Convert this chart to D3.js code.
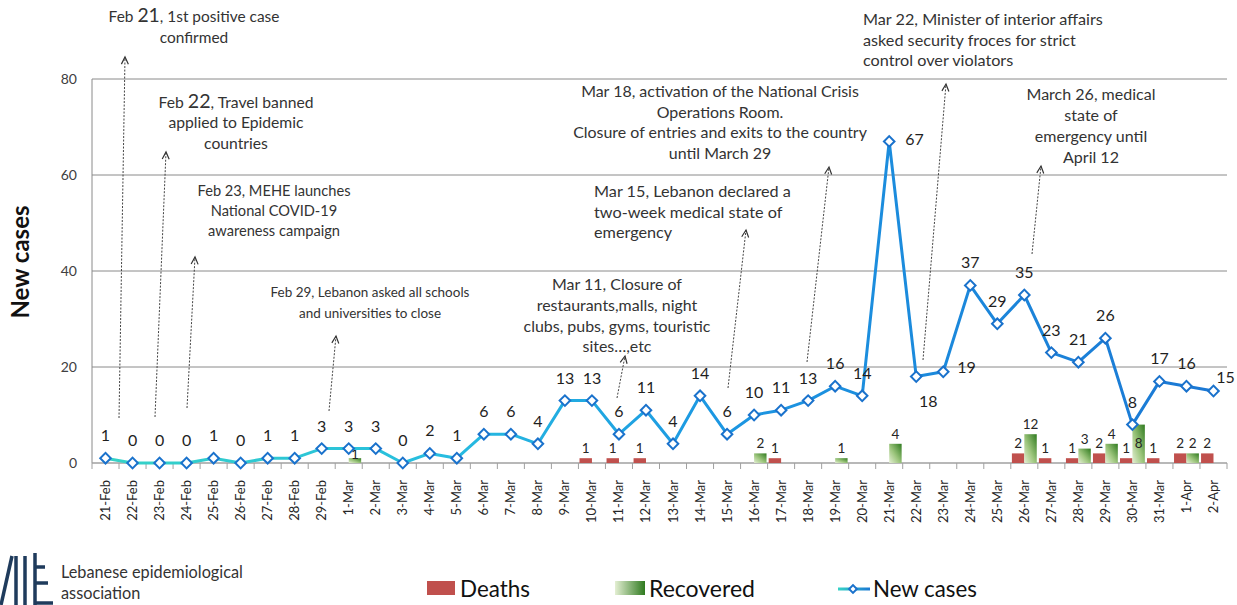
<!DOCTYPE html>
<html><head><meta charset="utf-8">
<script src="https://cdn.jsdelivr.net/npm/d3@7"></script>
<style>
html,body{margin:0;padding:0;background:#fff;}
svg{display:block;font-family:Lato,"Open Sans",sans-serif;}
</style></head>
<body><svg id="chart" width="1237" height="605"></svg>
<script>
// ---------------- DATA ----------------
const categories = ["21-Feb","22-Feb","23-Feb","24-Feb","25-Feb","26-Feb","27-Feb","28-Feb","29-Feb",
  "1-Mar","2-Mar","3-Mar","4-Mar","5-Mar","6-Mar","7-Mar","8-Mar","9-Mar","10-Mar","11-Mar","12-Mar",
  "13-Mar","14-Mar","15-Mar","16-Mar","17-Mar","18-Mar","19-Mar","20-Mar","21-Mar","22-Mar","23-Mar",
  "24-Mar","25-Mar","26-Mar","27-Mar","28-Mar","29-Mar","30-Mar","31-Mar","1-Apr","2-Apr"];
const newCases = [1,0,0,0,1,0,1,1,3, 3,3,0,2,1,6,6,4,13,13,6,11,4,14,6,10,11,13,16,14,67,18,19,37,29,35,23,21,26,8,17, 16,15];
const deaths = [null,null,null,null,null,null,null,null,null,
  null,null,null,null,null,null,null,null,null,1,1,1,null,null,null,null,1,null,null,null,null,null,null,
  null,null,2,1,1,2,1,1, 2,2];
// bar heights as drawn in the picture (26-Mar bar is drawn at ~6 although labelled 12)
const recovered = [null,null,null,null,null,null,null,null,null,
  1,null,null,null,null,null,null,null,null,null,null,null,null,null,null,2,null,null,1,null,4,null,null,
  null,null,6,null,3,4,8,null, 2,null];
const recoveredLabels = {"26-Mar":"12"};
const yTicks = [0,20,40,60,80];
const seriesNames = ["Deaths","Recovered","New cases"];

// ---------------- LAYOUT ----------------
const svg = d3.select("#chart");
const L = 92, R = 1227, T = 79, B = 463;
const x = d3.scaleBand().domain(categories).range([L, R]).padding(0);
const y = d3.scaleLinear().domain([0, 80]).range([B, T]);
const bw = x.bandwidth();
const cx = c => x(c) + bw / 2;

// fit a text element's font size so that it spans a target width
function fitWidth(sel, target){
  const w = sel.node().getComputedTextLength();
  const fs = parseFloat(sel.attr("font-size"));
  if (w > 0) sel.attr("font-size", fs * target / w);
  return w > 0 ? target / w : 1;
}

const defs = svg.append("defs");
const lg = defs.append("linearGradient").attr("id","lineGrad").attr("gradientUnits","userSpaceOnUse")
  .attr("x1", cx(categories[0])).attr("x2", cx(categories[categories.length-1])).attr("y1",0).attr("y2",0);
[[0,"#36d3c6"],[0.3,"#27bde0"],[0.55,"#1c97e2"],[1,"#1b78d4"]].forEach(s=>lg.append("stop").attr("offset",s[0]).attr("stop-color",s[1]));
const lgLeg = defs.append("linearGradient").attr("id","lineGradLeg").attr("gradientUnits","userSpaceOnUse")
  .attr("x1",838).attr("x2",870).attr("y1",0).attr("y2",0);
[[0,"#36d3c6"],[1,"#1b78d4"]].forEach(s=>lgLeg.append("stop").attr("offset",s[0]).attr("stop-color",s[1]));
const gg = defs.append("linearGradient").attr("id","recGrad").attr("x1",0).attr("y1",1).attr("x2",1).attr("y2",0);
[[0,"#e4efd3"],[0.45,"#9cc57c"],[1,"#2f7a1f"]].forEach(s=>gg.append("stop").attr("offset",s[0]).attr("stop-color",s[1]));
const ggLeg = defs.append("linearGradient").attr("id","recGradLeg").attr("x1",0).attr("y1",0).attr("x2",1).attr("y2",0);
[[0,"#e4efd3"],[1,"#2f7a1f"]].forEach(s=>ggLeg.append("stop").attr("offset",s[0]).attr("stop-color",s[1]));

// gridlines
svg.append("g").selectAll("line").data(yTicks.filter(t=>t>0)).join("line")
  .attr("x1", L).attr("x2", R).attr("y1", d=>y(d)).attr("y2", d=>y(d))
  .attr("stroke","#8a8a8a").attr("stroke-width",1);
// y axis line
svg.append("line").attr("x1",L).attr("x2",L).attr("y1",T).attr("y2",B).attr("stroke","#8a8a8a");
// y tick labels
svg.append("g").selectAll("text").data(yTicks).join("text")
  .attr("x", 77).attr("y", d=>y(d)).attr("dy","0.35em").attr("text-anchor","end")
  .attr("font-size",14).attr("fill","#404040").text(d=>d);

// x axis
const xAxis = svg.append("g");
xAxis.append("line").attr("x1",L).attr("x2",R).attr("y1",B).attr("y2",B).attr("stroke","#a0a0a0").attr("stroke-width",1.5);
xAxis.selectAll("line.tk").data(d3.range(categories.length+1)).join("line").attr("class","tk")
  .attr("x1", i=>L+i*bw).attr("x2", i=>L+i*bw).attr("y1",B).attr("y2",B+6).attr("stroke","#a0a0a0");
xAxis.selectAll("text").data(categories).join("text")
  .attr("transform", d=>`translate(${cx(d)+4.5},${B+17}) rotate(-90)`)
  .attr("text-anchor","end").attr("font-size",13).attr("fill","#262626").text(d=>d);

// y title
svg.append("text").attr("transform","translate(29,262) rotate(-90)").attr("text-anchor","middle")
  .attr("font-size",24).attr("font-weight","bold").attr("fill","#111").text("New cases");

// bars
const bwBar = bw*0.46;
const dData = categories.map((c,i)=>({c, v:deaths[i]})).filter(d=>d.v!=null);
const rData = categories.map((c,i)=>({c, v:recovered[i]})).filter(d=>d.v!=null);
svg.append("g").selectAll("rect").data(dData).join("rect")
  .attr("x", d=>cx(d.c)-bwBar).attr("width", bwBar).attr("y", d=>y(d.v)).attr("height", d=>B-y(d.v))
  .attr("fill","#c0504d");
svg.append("g").selectAll("rect").data(rData).join("rect")
  .attr("x", d=>cx(d.c)).attr("width", bwBar).attr("y", d=>y(d.v)).attr("height", d=>B-y(d.v))
  .attr("fill","url(#recGrad)");
// bar labels
svg.append("g").selectAll("text").data(dData).join("text")
  .attr("x", d=>cx(d.c)-bwBar/2).attr("y", d=>y(d.v)-5).attr("text-anchor","middle")
  .attr("font-size",13.5).attr("fill","#262626").text(d=>d.v);
const recLabelShift = {"1-Mar": 6, "30-Mar": 28};
svg.append("g").selectAll("text").data(rData).join("text")
  .attr("x", d=>cx(d.c)+bwBar/2).attr("y", d=>y(d.v)-5+(recLabelShift[d.c]||0)).attr("text-anchor","middle")
  .attr("font-size",13.5).attr("fill","#262626").text(d=>recoveredLabels[d.c]||d.v);

// line
const pts = categories.map((c,i)=>({c, v:newCases[i]}));
svg.append("path").datum(pts)
  .attr("d", d3.line().x(d=>cx(d.c)).y(d=>y(d.v)))
  .attr("fill","none").attr("stroke","url(#lineGrad)").attr("stroke-width",3).attr("stroke-linejoin","round");
svg.append("g").selectAll("path").data(pts).join("path")
  .attr("transform", d=>`translate(${cx(d.c)},${y(d.v)}) rotate(45)`)
  .attr("d", d3.symbol().type(d3.symbolSquare).size(56)())
  .attr("fill","#fff").attr("stroke","#1a72cc").attr("stroke-width",2);
// line labels
const lblPos = {"21-Mar":[16,4,"start"], "22-Mar":[12,30,"middle"], "23-Mar":[14,1,"start"], "2-Apr":[12,-8,"middle"]};
svg.append("g").selectAll("text").data(pts).join("text")
  .attr("x", d=>cx(d.c)+(lblPos[d.c]?lblPos[d.c][0]:0))
  .attr("y", d=>y(d.v)+(lblPos[d.c]?lblPos[d.c][1]:-17))
  .attr("text-anchor", d=>lblPos[d.c]?lblPos[d.c][2]:"middle")
  .attr("font-size",16).attr("fill","#1f1f1f").text(d=>d.v);

// annotations (w = width of first line in the reference)
const notes = [
  {x:194, w:171, anchor:"middle", ys:[22,43], lines:[["Feb ",["21",true],", 1st positive case"],["confirmed"]], a:[119,418,125,57]},
  {x:236, w:155, anchor:"middle", ys:[108,128,149], lines:[["Feb ",["22",true],", Travel banned"],["applied to Epidemic"],["countries"]], a:[155,417,166,152]},
  {x:274, w:153, anchor:"middle", ys:[196,216,236], lines:[["Feb 23, MEHE launches"],["National COVID-19"],["awareness campaign"]], a:[187,408,195,257]},
  {x:370, w:199, anchor:"middle", ys:[297,318], lines:[["Feb 29, Lebanon asked all schools"],["and universities to close"]], a:[329,411,336,336]},
  {x:617, w:130, anchor:"middle", ys:[290,311,332,352], lines:[["Mar 11, Closure of"],["restaurants,malls, night"],["clubs, pubs, gyms, touristic"],["sites…,etc"]], a:[617,398,625,356]},
  {x:594, w:197, anchor:"start", ys:[197,218,238], lines:[["Mar 15, Lebanon declared a"],["two-week medical state of"],["emergency"]], a:[728,388,746,230]},
  {x:720, w:278, anchor:"middle", ys:[97,118,138,159], lines:[["Mar 18, activation of the National Crisis"],["Operations Room."],["Closure of entries and exits to the country"],["until March 29"]], a:[807,362,829,167]},
  {x:863, w:240, anchor:"start", ys:[25,45.5,66], lines:[["Mar 22, Minister of interior affairs"],["asked security froces for strict"],["control over violators"]], a:[923,360,946,84]},
  {x:1091, w:129, anchor:"middle", ys:[100,121,142,163], lines:[["March 26, medical"],["state of"],["emergency until"],["April 12"]], a:[1032,254,1041,166]}
];
const ng = svg.append("g");
notes.forEach(n=>{
  const base = 15;
  const texts = n.lines.map((ln,k)=>{
    const t = ng.append("text").attr("x",n.x).attr("y",n.ys[k]).attr("text-anchor",n.anchor)
      .attr("font-size",base).attr("fill","#333");
    ln.forEach(part=>{
      if (Array.isArray(part)) t.append("tspan").attr("class","big").attr("font-size",base*1.25).text(part[0]);
      else t.append("tspan").text(part);
    });
    return t;
  });
  const s = fitWidth(texts[0], n.w);
  const fs = base * s;
  texts.forEach(t=>{ t.attr("font-size", fs); t.selectAll("tspan.big").attr("font-size", fs*1.25); });
  const [x0,y0,x1,y1] = n.a;
  ng.append("line").attr("x1",x0).attr("y1",y0).attr("x2",x1).attr("y2",y1)
    .attr("stroke","#444").attr("stroke-width",1).attr("stroke-dasharray","2,1.5");
  const ang = Math.atan2(y1-y0, x1-x0), h = 8, sp = 0.45;
  const p1 = [x1-h*Math.cos(ang-sp), y1-h*Math.sin(ang-sp)];
  const p2 = [x1-h*Math.cos(ang+sp), y1-h*Math.sin(ang+sp)];
  ng.append("path").attr("d",`M${p1}L${x1},${y1}L${p2}`).attr("fill","none").attr("stroke","#333").attr("stroke-width",1.2);
});

// legend
const lgG = svg.append("g");
lgG.append("rect").attr("x",427).attr("y",581).attr("width",28).attr("height",14).attr("fill","#c0504d");
fitWidth(lgG.append("text").attr("x",460).attr("y",597).attr("font-size",22).attr("fill","#111").text(seriesNames[0]), 70);
lgG.append("rect").attr("x",615).attr("y",581).attr("width",30).attr("height",14).attr("fill","url(#recGradLeg)");
fitWidth(lgG.append("text").attr("x",649).attr("y",597).attr("font-size",22).attr("fill","#111").text(seriesNames[1]), 106);
lgG.append("line").attr("x1",838).attr("x2",870).attr("y1",589).attr("y2",589).attr("stroke","url(#lineGradLeg)").attr("stroke-width",3);
lgG.append("path").attr("transform","translate(853,589) rotate(45)").attr("d", d3.symbol().type(d3.symbolSquare).size(30)())
  .attr("fill","#fff").attr("stroke","#1a72cc").attr("stroke-width",2);
fitWidth(lgG.append("text").attr("x",873).attr("y",597).attr("font-size",22).attr("fill","#111").text(seriesNames[2]), 104);

// logo
const logo = svg.append("g").attr("stroke","#1f3b5c").attr("stroke-width",3.5).attr("fill","none");
logo.append("path").attr("d","M1,605 L12,556");
logo.append("path").attr("d","M16,556 L16,605");
logo.append("path").attr("d","M25,556 L25,605");
logo.append("path").attr("d","M35,553 L35,605 M35,567 L45,567 M35,583 L48,583 M35,603 L53,603");
const lt1 = svg.append("text").attr("x",61).attr("y",578).attr("font-size",16).attr("fill","#333").text("Lebanese epidemiological");
const ls = fitWidth(lt1, 182);
svg.append("text").attr("x",61).attr("y",599).attr("font-size",16*ls).attr("fill","#333").text("association");
</script>
</body></html>
